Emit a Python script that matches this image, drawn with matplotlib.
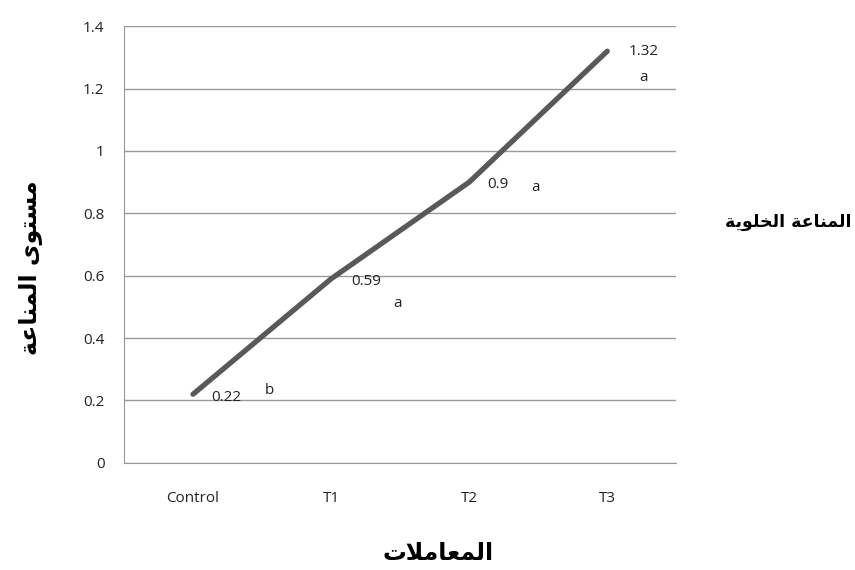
import matplotlib
matplotlib.use("Agg")
import matplotlib.pyplot as plt

# treatment groups and mean immunity level
categories = ["Control", "T1", "T2", "T3"]
values = [0.22, 0.59, 0.9, 1.32]
letters = ["b", "a", "a", "a"]
y_ticks = [0, 0.2, 0.4, 0.6, 0.8, 1, 1.2, 1.4]

# Arabic labels written with presentation forms (logical order), reversed for display
def _visual(shaped: str) -> str:
    return shaped[::-1]

# مستوى المناعة
y_title = _visual("\uFEE3\uFEB4\uFE98\uFEEE\uFEEF \uFE8D\uFEDF\uFEE4\uFEE8\uFE8E\uFECB\uFE94")
# المعاملات
x_title = _visual("\uFE8D\uFEDF\uFEE4\uFECC\uFE8E\uFEE3\uFEFC\uFE95")
# المناعة الخلوية
series_name = _visual("\uFE8D\uFEDF\uFEE4\uFEE8\uFE8E\uFECB\uFE94 \uFE8D\uFEDF\uFEA8\uFEE0\uFEEE\uFEF3\uFE94")

plt.rcParams["font.family"] = ["Open Sans", "DejaVu Sans"]

fig = plt.figure(figsize=(8.55, 5.7), dpi=100)
ax = fig.add_axes([0.145, 0.188, 0.646, 0.766])

x = list(range(len(categories)))
ax.plot(x, values, color="#595959", linewidth=3.8, solid_capstyle="round", zorder=3)

ax.set_xlim(-0.5, len(categories) - 0.5)
ax.set_ylim(0, 1.4)
ax.set_yticks(y_ticks)
ax.set_yticklabels([f"{t:g}" for t in y_ticks])
ax.set_xticks(x)
ax.set_xticklabels(categories)
ax.yaxis.grid(True, color="#999999", linewidth=1)
ax.set_axisbelow(True)
ax.tick_params(length=0, labelsize=11, colors="#222222", pad=14)
ax.tick_params(axis="x", pad=20)

for side in ["top", "right"]:
    ax.spines[side].set_visible(False)
for side in ["left", "bottom"]:
    ax.spines[side].set_color("#999999")

# value and significance letter offsets (points)
value_offsets = [(24, -2), (25, -2), (21, -2), (26, 0)]
letter_offsets = [(55, 3), (48, -18), (48, -4), (26, -19)]
for i, v in enumerate(values):
    ax.annotate(f"{v:g}", (i, v), xytext=value_offsets[i], textcoords="offset points",
                ha="center", va="center", fontsize=11, color="#222222")
    ax.annotate(letters[i], (i, v), xytext=letter_offsets[i], textcoords="offset points",
                ha="center", va="center", fontsize=11, color="#222222")

fig.text(30 / 855, 1 - 268 / 570, y_title, rotation=90, fontsize=17, fontweight="bold",
         family="DejaVu Sans", ha="center", va="center")
fig.text(438 / 855, 1 - 553 / 570, x_title, fontsize=17, fontweight="bold",
         family="DejaVu Sans", ha="center", va="center")
fig.text(851 / 855, 1 - 222 / 570, series_name, fontsize=12.5, fontweight="bold",
         family="DejaVu Sans", ha="right", va="center")

fig.savefig("out.png", dpi=100)
